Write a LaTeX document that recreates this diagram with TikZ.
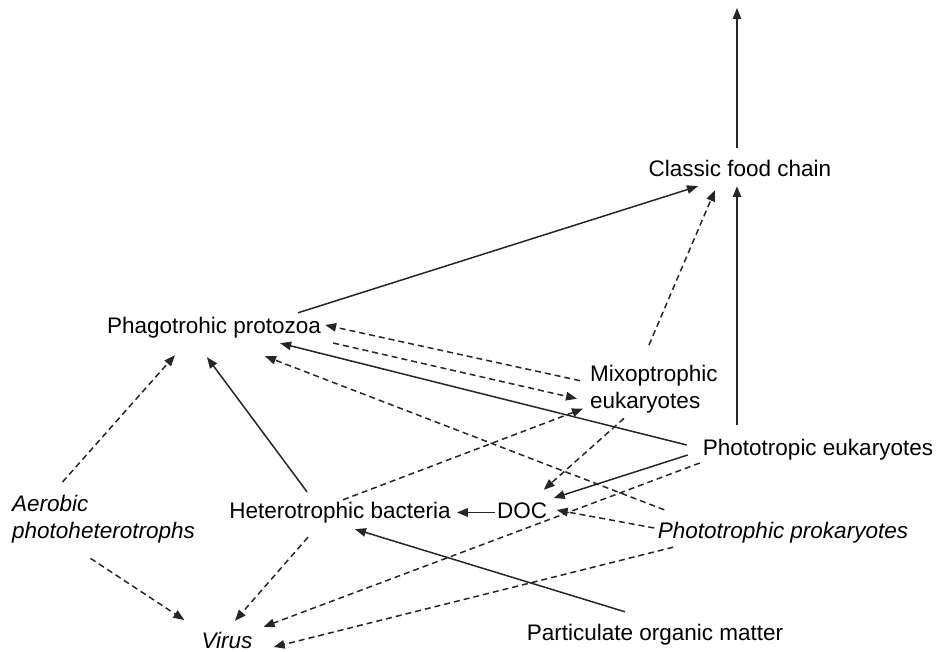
\documentclass[tikz,border=0pt]{standalone}
\usepackage{fontspec}
\setmainfont{Liberation Sans}
\usetikzlibrary{arrows.meta, calc}

\begin{document}
\begin{tikzpicture}[x=1pt, y=-1pt, >={Triangle[length=11pt,width=8.5pt]},
    taxon/.style={
            % plain text, no frame
            inner sep=2pt, text height=16pt, text depth=5pt,
            % the lettering
            font=\fontsize{22.5}{27}\selectfont},
    taxonit/.style={taxon, font=\fontsize{22.5}{27}\selectfont\itshape},
    twoline/.style={inner sep=2pt, align=left, anchor=north west},
    flow/.style={->, line width=1.5pt, draw=black!85},
    flowdash/.style={flow, dash pattern=on 6pt off 4pt}]
        \useasboundingbox (0,0) rectangle (940,651);

        % the groups
        \node [taxon] (cfc) at (740,170.5) {Classic food chain};
        \node [taxon] (pp) at (214,327.5) {Phagotrohic protozoa};
        \node [twoline, font=\fontsize{22.5}{27}\selectfont] (mix) at (588,363) {Mixoptrophic\\eukaryotes};
        \node [taxon] (phe) at (818,449.5) {Phototropic eukaryotes};
        \node [twoline, font=\fontsize{22.5}{27}\selectfont\itshape] (aer) at (10,493) {Aerobic\\photoheterotrophs};
        \node [taxon] (hb) at (340,512.5) {Heterotrophic bacteria};
        \node [taxon] (doc) at (522,512.5) {DOC};
        \node [taxonit] (php) at (783,532.5) {Phototrophic prokaryotes};
        \node [taxonit, text depth=0pt, anchor=base] (vir) at (227,648) {Virus};
        \node [taxon] (pom) at (655,634.5) {Particulate organic matter};
        \coordinate (top) at (737,8);

        % solid flows
        \draw [flow] ([shift={(-3,-10)}]cfc.north) -- (top);
        \draw [flow] ([shift={(-81,-12)}]phe.north) -- ([shift={(-3,3)}]cfc.south);
        \draw [flow] ([shift={(84,-2)}]pp.north) -- ([shift={(-42,3)}]cfc.south);
        \draw [flow] ([shift={(-14,-4.5)}]phe.west) -- ([shift={(-43,3)}]pp.south east);
        \draw [flow] ([shift={(-13,5.5)}]phe.west) -- ([shift={(4.5,-14.5)}]doc.east);
        \draw [flow] ([shift={(-33,-8)}]hb.north) -- ([shift={(-7,17)}]pp.south);
        \draw [flow] (doc.west) -- ([xshift=4pt]hb.east);
        \draw [flow] ([shift={(-30,-10)}]pom.north) -- ([shift={(15,4)}]hb.south);

        % dashed flows
        \draw [flowdash] ([shift={(-5,-18)}]mix.north) -- ([shift={(-25,7)}]cfc.south);
        \draw [flowdash] ([shift={(-30,3)}]mix.south) -- ([shift={(-5.5,-10)}]doc.north east);
        \draw [flowdash] ([shift={(-1,13.5)}]phe.west) -- ([shift={(9,-3)}]vir.north east);
        \draw [flowdash] ([shift={(-1.5,-4.5)}]php.west) -- ([shift={(7.5,-2.5)}]doc.east);
        \draw [flowdash] ([shift={(17.5,2)}]php.south west) -- ([shift={(19,7)}]vir.east);
        \draw [flowdash] ([shift={(8.5,-10)}]php.north west) -- ([shift={(51,16)}]pp.south);
        \draw [flowdash] ([shift={(-8,-8.5)}]mix.west) -- ([shift={(2,-2.5)}]pp.east);
        \draw [flowdash] ([shift={(10,15.5)}]pp.east) -- ([shift={(-11,9.5)}]mix.west);
        \draw [flowdash] ([shift={(3,0)}]hb.north) -- ([shift={(-5,19.5)}]mix.west);
        \draw [flowdash] ([shift={(-41,-11)}]aer.north) -- ([shift={(-39,15)}]pp.south);
        \draw [flowdash] ([shift={(-13,13)}]aer.south) -- ([shift={(-15,-20)}]vir.west);
        \draw [flowdash] ([shift={(-32,12)}]hb.south) -- ([shift={(8,-9)}]vir.north);

\end{tikzpicture}
\end{document}
